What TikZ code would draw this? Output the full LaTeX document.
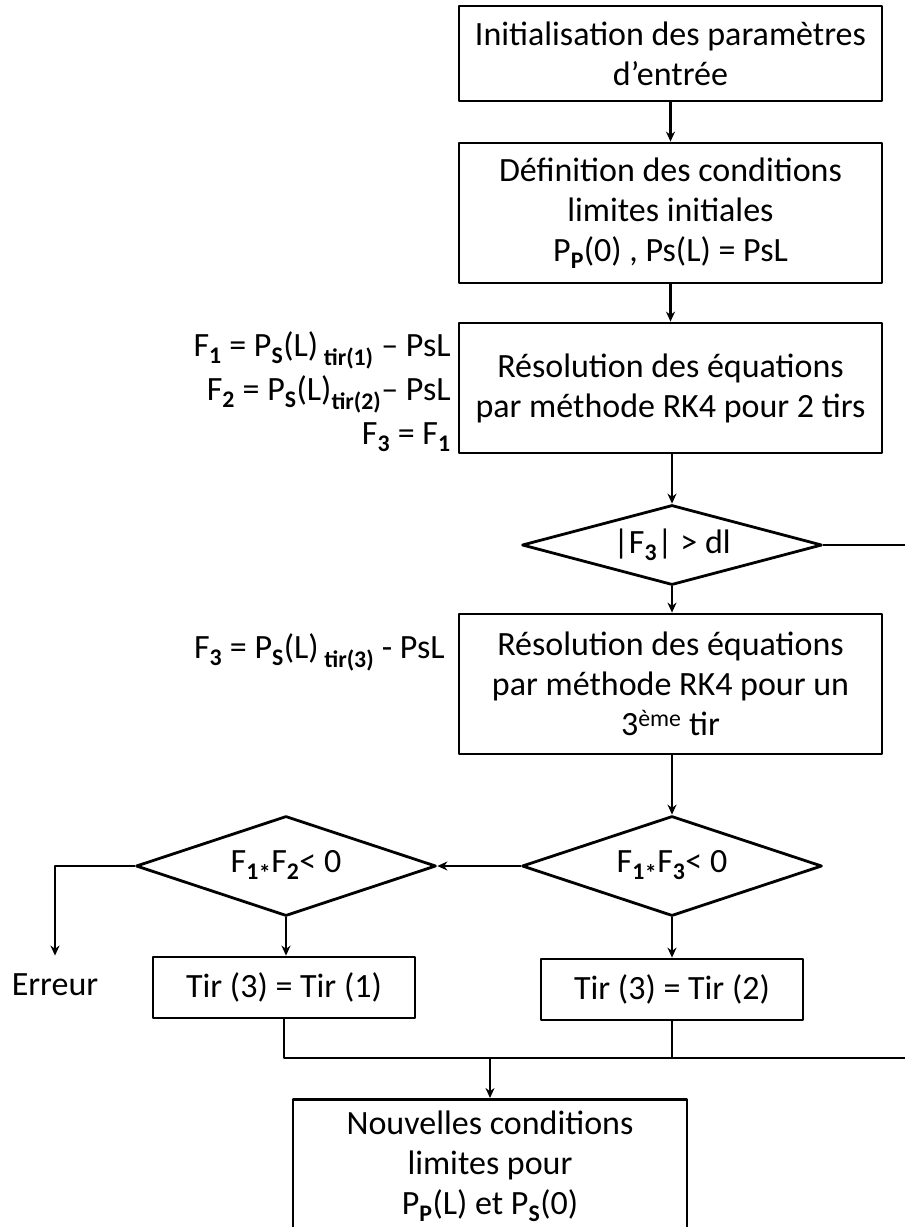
\documentclass[tikz,border=0pt]{standalone}
\usepackage{fontspec}
\setmainfont{Carlito}
\usetikzlibrary{shapes.geometric,arrows.meta}
\newcommand{\ind}[1]{\textsubscript{\textbf{#1}}}
\begin{document}
\begin{tikzpicture}[x=1pt, y=-1pt, line width=2.8pt, line join=round, >={Stealth[length=10pt,width=9pt]},
		font=\fontsize{34}{40}\selectfont,
		bloc/.style={draw, rectangle, minimum width=423pt, align=center, inner sep=0pt},
		test/.style={draw, diamond, aspect=3, minimum width=300pt, minimum height=100pt, inner sep=0pt},
		petit/.style={draw, rectangle, minimum width=262pt, minimum height=61pt, inner sep=0pt}]
		\useasboundingbox (0,0) rectangle (905,1227);
		% colonne principale
		\node[bloc, minimum height=95pt] (init) at (670.5,53.5) {Initialisation des paramètres\\d’entrée};
		\node[bloc, minimum height=140pt] (cl) at (670.5,213) {Définition des conditions\\limites initiales\\P\ind{P}(0) , Ps(L) = PsL};
		\node[bloc, minimum height=130pt] (rk2) at (670.5,388) {Résolution des équations\\par méthode RK4 pour 2 tirs};
		\node[test, minimum height=80pt] (dl) at (672,545) {|F\ind{3}| > dl};
		\node[bloc, minimum height=140pt] (rk3) at (670.5,684) {Résolution des équations\\par méthode RK4 pour un\\3\textsuperscript{ème} tir};
		\node[test] (f13) at (672,866) {F\ind{1}\ind{*}F\ind{3}< 0};
		\node[test] (f12) at (286,866) {F\ind{1}\ind{*}F\ind{2}< 0};
		\node[petit] (tir1) at (284,987.5) {Tir (3) = Tir (1)};
		\node[petit] (tir2) at (672,989.5) {Tir (3) = Tir (2)};
		\node[bloc, minimum width=394pt, minimum height=134pt, anchor=north] (nouv) at (490,1098) {Nouvelles conditions\\limites pour\\P\ind{P}(L) et P\ind{S}(0)};
		\node[inner sep=17pt] (err) at (55,985) {Erreur};
		% annotations
		\node[anchor=east, align=right, inner sep=0pt, font=\fontsize{34}{44}\selectfont] (eqa) at (452,392) {F\ind{1} = P\ind{S}(L)\,\ind{tir(1)} -- PsL\\F\ind{2} = P\ind{S}(L)\ind{tir(2)}-- PsL\\F\ind{3} = F\ind{1}};
		\node[anchor=east, inner sep=0pt] (eqb) at (446,652) {F\ind{3} = P\ind{S}(L)\,\ind{tir(3)} - PsL};
		\coordinate (boucle) at (915,545);
		\coordinate (joint) at (915,1058);
		% liaisons
		\draw[->] (init) -- (cl);
		\draw[->] (cl) -- (rk2);
		\draw[->] (rk2.south -| dl.north) -- (dl.north);
		\draw[->] (dl.south) -- (dl.south |- rk3.north);
		\draw (dl.east) -- (boucle);
		\draw[->] (rk3.south -| f13.north) -- (f13.north);
		\draw[->] (f13.west) -- (f12.east);
		\draw[->] (f13.south) -- (tir2.north);
		\draw[->] (f12.south) -- (f12.south |- tir1.north);
		\draw[->] (f12.west) -| (err.north);
		\draw (tir1.south) |- (joint);
		\draw (tir2.south) -- (tir2.south |- joint);
		\draw[->] (nouv.north |- joint) -- (nouv.north);
	\end{tikzpicture}
\end{document}
